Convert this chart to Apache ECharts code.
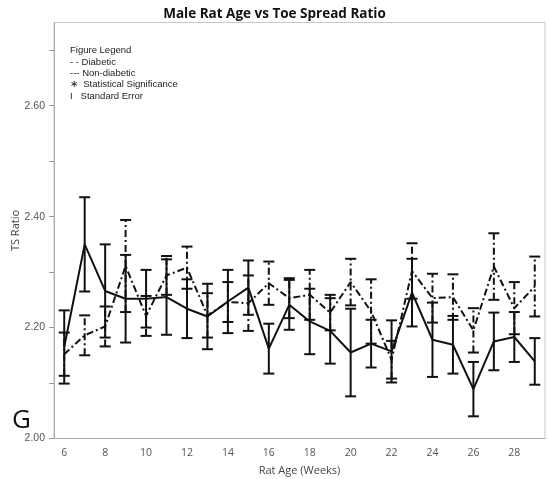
<!DOCTYPE html>
<html>
<head>
<meta charset="utf-8">
<script src="https://cdn.jsdelivr.net/npm/echarts@6/dist/echarts.min.js"></script>
<style>html,body{margin:0;padding:0;background:#fff;}#c{width:549px;height:479px;}</style>
</head>
<body>
<div id="c"></div>
<script>
// Data
const weeks = [6,7,8,9,10,11,12,13,14,15,16,17,18,19,20,21,22,23,24,25,26,27,28,29];
const nonDiabetic = [2.165,2.350,2.266,2.252,2.252,2.255,2.234,2.220,2.247,2.272,2.162,2.241,2.211,2.194,2.155,2.171,2.157,2.263,2.178,2.169,2.089,2.175,2.183,2.139];
const nonDiabeticSE = [0.066,0.085,0.084,0.079,0.052,0.068,0.053,0.059,0.057,0.049,0.045,0.045,0.059,0.059,0.079,0.043,0.056,0.061,0.067,0.052,0.049,0.052,0.045,0.042];
const diabetic = [2.152,2.186,2.202,2.311,2.221,2.294,2.308,2.222,2.246,2.244,2.280,2.253,2.259,2.227,2.282,2.229,2.142,2.302,2.253,2.255,2.195,2.310,2.235,2.274];
const diabeticSE = [0.039,0.036,0.036,0.083,0.036,0.035,0.038,0.040,0.036,0.050,0.039,0.036,0.045,0.032,0.042,0.058,0.034,0.050,0.044,0.041,0.040,0.060,0.047,0.054];
const legendLines = ["Figure Legend","- - Diabetic","--- Non-diabetic","\u2217  Statistical Significance","I   Standard Error"];

const chart = echarts.init(document.getElementById('c'));
const cats = weeks.map(String);
const DASH = [7,3,2,3];

function errData(means, se){
  return means.map((m,i)=>[i, m - se[i], m + se[i]]);
}
function errRender(dash){
  return function(params, api){
    const x = api.value(0);
    const lo = api.coord([x, api.value(1)]);
    const hi = api.coord([x, api.value(2)]);
    const h = 5.5;
    const st = {stroke:'#111', lineWidth:2};
    return {type:'group', children:[
      {type:'line', shape:{x1:lo[0],y1:lo[1],x2:hi[0],y2:hi[1]}, style:Object.assign({lineDash:dash}, st)},
      {type:'line', shape:{x1:lo[0]-h,y1:lo[1],x2:lo[0]+h,y2:lo[1]}, style:st},
      {type:'line', shape:{x1:hi[0]-h,y1:hi[1],x2:hi[0]+h,y2:hi[1]}, style:st}
    ]};
  };
}

const legendY = [51.5, 63, 74.3, 85.7, 97];
const graphics = legendLines.map((t,i)=>({
  type:'text', left:70, top:legendY[i]-6,
  style:{text:t, font:'9.5px "Liberation Sans", Arial, sans-serif', fill:'#222'}
}));
graphics.push({type:'text', left:12, top:408, style:{text:'G', font:'26px "Open Sans", sans-serif', fill:'#111'}});

chart.setOption({
  animation:false,
  title:{text:'Male Rat Age vs Toe Spread Ratio', left:'center', top:2,
    textStyle:{fontFamily:'"Open Sans", sans-serif', fontWeight:'bold', fontSize:13.5, color:'#111'}},
  grid:{left:54, right:4, top:22.5, bottom:40.5, show:true, borderColor:'#c8c8c8', borderWidth:1,
    containLabel:false, outerBoundsMode:'none'},
  xAxis:[{
    type:'category', data:cats, boundaryGap:true,
    name:'Rat Age (Weeks)', nameLocation:'middle', nameGap:27, nameMoveOverlap:false,
    nameTextStyle:{fontFamily:'"Open Sans", sans-serif', fontSize:11, color:'#444'},
    axisLine:{lineStyle:{color:'#aaa', width:1}},
    axisTick:{alignWithLabel:true, interval:0, length:2.5, lineStyle:{color:'#999'}},
    axisLabel:{interval:1, margin:9, fontFamily:'"Open Sans", sans-serif', fontSize:10.5, color:'#555'}
  },{
    type:'category', data:cats, boundaryGap:true, position:'bottom',
    axisLine:{show:false},
    axisTick:{alignWithLabel:true, interval:1, length:4.5, lineStyle:{color:'#999'}},
    axisLabel:{show:false}
  }],
  yAxis:{
    type:'value', min:2.0, max:2.75, interval:0.1,
    name:'TS Ratio', nameLocation:'middle', nameGap:33, nameRotate:90, nameMoveOverlap:false,
    nameTextStyle:{fontFamily:'"Open Sans", sans-serif', fontSize:11, color:'#444'},
    axisLine:{show:true, lineStyle:{color:'#aaa'}},
    axisTick:{show:true, length:5, lineStyle:{color:'#999'}},
    splitLine:{show:false},
    axisLabel:{showMaxLabel:false, margin:9, fontFamily:'"Liberation Sans", Arial, sans-serif', fontSize:10.5, color:'#555',
      formatter:v => (Math.round(v*100) % 20 === 0) ? v.toFixed(2) : ''}
  },
  graphic:graphics,
  series:[
    {type:'custom', name:'Non-diabetic SE', renderItem:errRender(null), data:errData(nonDiabetic, nonDiabeticSE), encode:{x:0,y:[1,2]}, z:2},
    {type:'custom', name:'Diabetic SE', renderItem:errRender(DASH), data:errData(diabetic, diabeticSE), encode:{x:0,y:[1,2]}, z:2},
    {type:'line', name:'Non-diabetic', data:nonDiabetic, symbol:'none', lineStyle:{color:'#111', width:2}, z:3},
    {type:'line', name:'Diabetic', data:diabetic, symbol:'none', lineStyle:{color:'#111', width:2, type:DASH}, z:3}
  ]
});
</script>
</body>
</html>
